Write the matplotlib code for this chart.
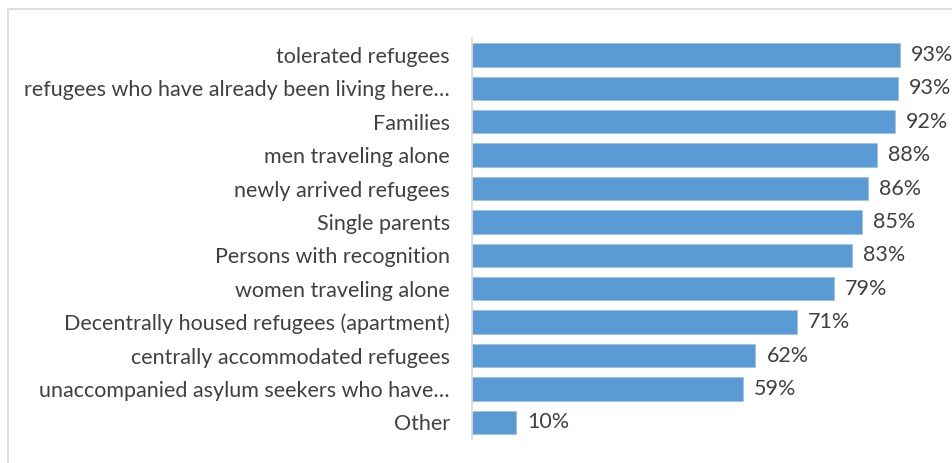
import matplotlib
matplotlib.use('Agg')
import matplotlib.pyplot as plt
from matplotlib.patches import Rectangle

categories = ['tolerated refugees',
              'refugees who have already been living here\u2026',
              'Families',
              'men traveling alone',
              'newly arrived refugees',
              'Single parents',
              'Persons with recognition',
              'women traveling alone',
              'Decentrally housed refugees (apartment)',
              'centrally accommodated refugees',
              'unaccompanied asylum seekers who have\u2026',
              'Other']
values = [93.0, 92.6, 92.0, 88.0, 86.1, 84.8, 82.7, 78.7, 70.6, 61.6, 58.9, 9.6]

plt.rcParams['font.family'] = ['Lato', 'DejaVu Sans']
txt = '#404040'

fig = plt.figure(figsize=(9.52, 4.63), dpi=100)
fig.patches.append(Rectangle((8 / 952, -0.1), 1.2, 1 - 9 / 463 + 0.1, transform=fig.transFigure,
                             fill=False, edgecolor='#d9d9d9', linewidth=1.2))
ax = fig.add_axes([472 / 952, 1 - 439 / 463, 460 / 952, (439 - 38.3) / 463])

y = list(range(len(categories)))
ax.barh(y, values, height=0.7, color='#5b9bd5', edgecolor='#9dc3e6', linewidth=0.6)
for yi, v in zip(y, values):
    ax.text(v + 2.4, yi, '%d%%' % round(v), va='center', ha='left', fontsize=15.5, color=txt)

ax.set_xlim(0, 100)
ax.set_ylim(len(categories) - 0.5, -0.5)
ax.set_yticks(y)
ax.set_yticklabels(categories, fontsize=15.5, color=txt)
ax.tick_params(axis='y', length=0, pad=16)
ax.set_xticks([])
for s in ['top', 'right', 'bottom']:
    ax.spines[s].set_visible(False)
ax.spines['left'].set_color('#d9d9d9')
ax.spines['left'].set_linewidth(1.2)

fig.savefig('out.png', dpi=100)
